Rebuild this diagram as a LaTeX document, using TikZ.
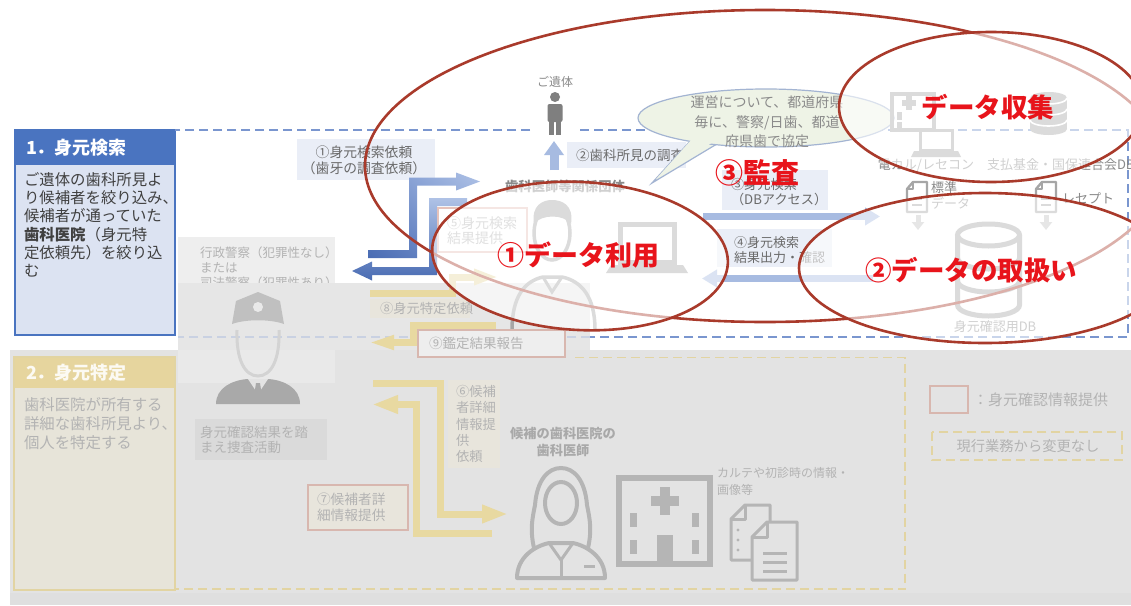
\documentclass[tikz,border=0pt]{standalone}
\usepackage{fontspec}
\setmainfont{Noto Sans CJK JP}
\usetikzlibrary{arrows.meta,calc,shadings}
\newcommand\setfs[2]{\fontsize{#1}{#2}\selectfont}

% palette
\definecolor{hdrblue}{HTML}{4A74C0}
\definecolor{bodyblue}{HTML}{DCE3F2}
\definecolor{dashblue}{HTML}{7A96CF}
\definecolor{txtdark}{HTML}{404040}
\definecolor{txtmid}{HTML}{6A6A6A}
\definecolor{txtlight}{HTML}{8A8A8A}
\definecolor{lblfill}{HTML}{EAEEF7}
\definecolor{icongray}{HTML}{A6A6A6}
\definecolor{figgray}{HTML}{7F7F7F}
\definecolor{ringred}{HTML}{A93A2B}
\definecolor{markred}{HTML}{E8141B}
\definecolor{bubblefill}{HTML}{EEF3E6}
\definecolor{bubbleline}{HTML}{A3B4D2}
\definecolor{arrDark}{HTML}{4A6CB3}
\definecolor{arrMid}{HTML}{7894CE}
\definecolor{arrLight}{HTML}{AFC2E6}
\definecolor{arrPale}{HTML}{A7BBE1}
\definecolor{pinkline}{HTML}{E6C2BA}
\definecolor{fadelite}{HTML}{EEEEEE}
\definecolor{fadeband}{HTML}{E6E6E6}
\definecolor{fadebg}{HTML}{E3E3E3}
\definecolor{fadecard}{HTML}{E9E9E9}
\definecolor{fadefoot}{HTML}{DFDFDF}
\definecolor{fadetxt}{HTML}{B3B3B3}
\definecolor{fadeicon}{HTML}{B5B5B5}
\definecolor{fadedark}{HTML}{A9A9A9}
\definecolor{fadeyel}{HTML}{E6D59E}
\definecolor{fadeyelbody}{HTML}{E7E4D9}
\definecolor{fadeyelline}{HTML}{E2D4A2}
\definecolor{fadeyarrow}{HTML}{E8D9A1}
\definecolor{fadepink}{HTML}{D8B7AF}
\definecolor{fadelabel}{HTML}{E8E5DC}
\definecolor{fadebox}{HTML}{DADADA}
\definecolor{fadedash}{HTML}{C9D1E2}

\tikzset{
  every node/.style={inner sep=0pt,outer sep=0pt},
  dashline/.style={draw=dashblue,line width=1.8,dash pattern=on 9pt off 5pt},
  yeldash/.style={draw=fadeyelline,line width=1.6,dash pattern=on 9pt off 5pt},
  lbltext/.style={text=txtmid,font=\setfs{13.5}{15.5}},
  barrow/.style={draw=arrPale,line width=7,-{Triangle[length=15pt,width=17pt]}},
  yarrow/.style={draw=fadeyarrow,line width=7,-{Triangle[length=26pt,width=17pt]}},
  ring/.style={draw=ringred,line width=2.6},
  ringfill/.style={ring,fill=white,fill opacity=0.6},
  redmark/.style={text=markred,font=\bfseries\setfs{26.5}{30}},
  dbsolid/.pic={
    \fill[icongray] (-18.5,0) rectangle (18.5,31);
    \fill[icongray] (0,31) ellipse[x radius=18.5,y radius=6];
    \fill[icongray] (0,0) ellipse[x radius=18.5,y radius=6];
    \draw[white,line width=1.6] (-18.5,0) arc[start angle=180,end angle=0,x radius=18.5,y radius=6];
    \draw[white,line width=1.6] (-18.5,11) arc[start angle=180,end angle=0,x radius=18.5,y radius=6];
    \draw[white,line width=1.6] (-18.5,22) arc[start angle=180,end angle=0,x radius=18.5,y radius=6];
  },
  dbframe/.pic={
    \draw[icongray,line width=5] (0,0) ellipse[x radius=31,y radius=11];
    \draw[icongray,line width=5] (-31,0) -- (-31,70) arc[start angle=180,end angle=0,x radius=31,y radius=11] -- (31,0);
    \draw[icongray,line width=5] (-31,23) arc[start angle=180,end angle=0,x radius=31,y radius=11];
    \draw[icongray,line width=5] (-31,46) arc[start angle=180,end angle=0,x radius=31,y radius=11];
  },
  docpage/.pic={
    \draw[icongray,line width=2.4,line join=round] (6,0) -- (20,0) -- (20,30) -- (0,30) -- (0,7) -- cycle;
    \draw[icongray,line width=2.4,line join=round] (0,7) -- (6,7) -- (6,0);
    \draw[icongray,line width=2.4] (5,17) -- (15,17) (5,23) -- (15,23);
  }
}

\begin{document}
\begin{tikzpicture}[x=1pt,y=-1pt]
\useasboundingbox (0,0) rectangle (1131,605);
\clip (0,0) rectangle (1131,605);
\fill[white] (0,0) rectangle (1131,605);

% ---------- section 1 card ----------
\fill[bodyblue] (15,130) rectangle (175,335);
\fill[hdrblue] (15,130) rectangle (175,165);
\draw[hdrblue,line width=1.6] (15,130) rectangle (175,335);
\node[anchor=west,text=white,font=\bfseries\setfs{18}{20}] (hd1) at (26,148) {1．身元検索};
\node[anchor=north west,align=left,text=txtdark,font=\setfs{15.4}{18.3}] (bd1) at (24,172.3)
  {ご遺体の歯科所見よ\\り候補者を絞り込み、\\候補者が通っていた\\\textbf{歯科医院}（身元特\\定依頼先）を絞り込\\む};

% dashed frame of section 1
\draw[dashline] (530,130) -- (175,130);
\draw[dashline] (580,130) -- (1128,130) -- (1128,337) -- (590,337);

% ---------- body and dental survey ----------
\node[text=txtlight,font=\setfs{12}{14}] (corpse) at (555,82) {ご遺体};
\fill[figgray] (555,97) circle (5);
\fill[figgray,rounded corners=2] (547.5,104) rectangle (562.5,122);
\fill[figgray] (549,119) rectangle (554,135);
\fill[figgray] (556,119) rectangle (561,135);
\coordinate (upS) at (554,170);
\coordinate (upE) at (554,141);
\draw[draw=arrPale,line width=9,-{Triangle[length=14pt,width=19pt]}] (upS) -- (upE);
\fill[lblfill] (567,142) rectangle (686,168);
\node[anchor=west,lbltext] (n2) at (576,155.5) {②歯科所見の調査};

% request label
\fill[lblfill] (297,139) rectangle (435,180);
\node[align=center,lbltext,font=\setfs{13.8}{16}] (n1) at (364,160) {①身元検索依頼\\（歯牙の調査依頼）};

% request arrow (police -> association)
\shade[lower left=arrDark,upper right=arrLight,upper left=arrMid,lower right=arrMid]
  (368,250) -- (409,250) -- (409,177.5) -- (456,177.5) -- (456,172.5) -- (480,181.5)
  -- (456,190.5) -- (456,185.5) -- (417,185.5) -- (417,258) -- (368,258) -- cycle;
% result arrow (association -> police)
\shade[top color=arrLight,bottom color=arrDark]
  (467,198) -- (429,198) -- (429,267) -- (372,267) -- (372,261.5) -- (352,271)
  -- (372,280.5) -- (372,275) -- (437,275) -- (437,206) -- (467,206) -- cycle;

% result label
\draw[pinkline,line width=1.4,fill=white] (438,208) rectangle (527,252);
\node[anchor=north west,align=left,text=fadetxt,font=\setfs{14}{15.5}] (n5) at (447,216.3) {⑤身元検索\\結果提供};

% association title
\node[text=txtlight,font=\bfseries\setfs{13.3}{15}] (assoc) at (565,186) {歯科医師等関係団体};

% laptop of the association
\draw[icongray,line width=5] (620,224) rectangle (674,262);
\fill[icongray] (611,265) -- (683,265) -- (688,273) -- (606,273) -- cycle;

% DB access arrows
\coordinate (dbIn) at (703,216.5);
\coordinate (dbTo) at (880,216.5);
\coordinate (dbOut) at (873,278.5);
\coordinate (dbBack) at (702,278.5);
\draw[barrow] (dbIn) -- (dbTo);
\draw[barrow] (dbOut) -- (dbBack);
\fill[lblfill] (722,170) rectangle (828,210);
\node[anchor=north west,align=left,lbltext,font=\setfs{13.2}{14.8}] (n3) at (731,178.4) {③身元検索\\（DBアクセス）};
\fill[lblfill] (717,229) rectangle (832,267);
\node[anchor=north west,align=left,lbltext,font=\setfs{13}{14.3}] (n4) at (734,236.8) {④身元検索\\結果出力・確認};

% agreement bubble
\draw[bubbleline,line width=1.2,fill=bubblefill] (690,141.3) -- (652,183) -- (716,144.5) -- cycle;
\draw[bubbleline,line width=1.2,fill=bubblefill] (766,118) ellipse[x radius=128,y radius=29];
\fill[bubblefill] (692,139) -- (656,179) -- (713,142) -- cycle;
\node[align=center,text=txtlight,font=\setfs{14}{19.5}] (bub) at (767,122) {運営について、都道府県\\毎に、警察/日歯、都道\\府県歯で協定};

% medical record system icon
\draw[icongray,line width=4] (892,94) rectangle (934,130);
\fill[icongray] (906,96) rectangle (912,110);
\fill[icongray] (902,100) rectangle (916,106);
\fill[icongray] (897,112) rectangle (902,120);
\fill[icongray] (897,122) rectangle (902,128);
\filldraw[fill=white,draw=icongray,line width=3] (920,130) rectangle (952,150);
\fill[icongray] (914,151) -- (958,151) -- (961,157) -- (911,157) -- cycle;
\node[text=txtlight,font=\setfs{13}{15}] (emr) at (926,165) {電カル/レセコン};

% claims database icon
\pic at (1048.5,98) {dbsolid};
\node[anchor=west,text=txtlight,font=\setfs{13}{15}] (claims) at (987,165) {支払基金・国保連合会DB};

% data files and feed arrows
\pic at (907,182) {docpage};
\node[anchor=north west,align=left,text=txtlight,font=\setfs{13}{16}] (std) at (931,181.5) {標準\\データ};
\pic at (1036,182) {docpage};
\node[anchor=west,text=txtlight,font=\setfs{13}{15}] (rcp) at (1062,198) {レセプト};
\coordinate (f1a) at (918,215);
\coordinate (f1b) at (918,230);
\coordinate (f2a) at (1046,215);
\coordinate (f2b) at (1046,230);
\draw[icongray!70,line width=5,-{Triangle[length=8pt,width=12pt]}] (f1a) -- (f1b);
\draw[icongray!70,line width=5,-{Triangle[length=8pt,width=12pt]}] (f2a) -- (f2b);

% identification database
\pic at (988.5,235) {dbframe};
\node[text=txtlight,font=\setfs{13}{15}] (iddb) at (995,327) {身元確認用DB};

% ---------- police card ----------
\fill[fadelite] (178,237) rectangle (335,283);
\node[anchor=north west,align=left,text=fadetxt,font=\setfs{12.5}{15}] (pol) at (200,246.8)
  {行政警察（犯罪性なし）\\または\\司法警察（犯罪性あり）};

% greyed lower region
\fill[fadeband] (178,283) rectangle (590,350);
\fill[fadebg] (10,350) rectangle (1131,605);
\fill[fadecard] (178,350) rectangle (335,383);
\fill[fadefoot] (10,593) rectangle (1131,605);
\draw[fadedash,line width=1.6,dash pattern=on 9pt off 5pt] (590,337) -- (178,337);

% association person
\fill[icongray] (534,224) .. controls (531,205) and (543,200) .. (552,200)
  .. controls (562,200) and (574,205) .. (571,224) .. controls (564,214) and (541,214) .. (534,224) -- cycle;
\draw[icongray,line width=3.5] (552,233) ellipse[x radius=18,y radius=27];
\draw[icongray,line width=3.5] (512,330) .. controls (512,296) and (525,281) .. (543,277) -- (562,277)
  .. controls (581,281) and (595,296) .. (595,330);
\draw[icongray,line width=3] (543,277) -- (552,292) -- (562,277);

% police officer
\fill[fadeicon!85!white] (232,324) -- (236,301) -- (258,292) -- (280,301) -- (284,324)
  .. controls (270,319) and (246,319) .. (232,324) -- cycle;
\fill[fadecard] (258,307) circle (5);
\draw[fadeicon!60!white,line width=3] (237,330) .. controls (236,360) and (245,376) .. (258,376)
  .. controls (271,376) and (280,360) .. (279,330);
\fill[fadedark] (216,404) .. controls (216,388) and (232,380) .. (248,379) -- (268,379)
  .. controls (284,380) and (300,388) .. (300,404) -- cycle;
\fill[fadebg] (248,379) -- (258,394) -- (268,379) -- cycle;
\fill[fadedark] (256,383) -- (260,383) -- (262,396) -- (258,400) -- (254,396) -- cycle;
\fill[fadebox] (195,419) rectangle (327,460);
\node[anchor=north west,align=left,text=fadetxt,font=\setfs{13.5}{15}] (act) at (200,426.5) {身元確認結果を踏\\まえ捜査活動};

% identification request / expert report
\coordinate (r8a) at (370,293.5);
\coordinate (r8b) at (452,293.5);
\coordinate (r8c) at (452,277);
\coordinate (r8d) at (498,277);
\draw[yarrow,-{Triangle[length=24pt,width=15pt]}] (r8a) -- (r8b) -- (r8c) -- (r8d);
\fill[fadelabel] (370,299) rectangle (470,318);
\node[anchor=west,text=fadetxt,font=\setfs{13.3}{15}] (n8) at (380,308) {⑧身元特定依頼};
\coordinate (r9a) at (496,325.5);
\coordinate (r9b) at (413,325.5);
\coordinate (r9c) at (413,342.5);
\coordinate (r9d) at (368,342.5);
\draw[yarrow,-{Triangle[length=26pt,width=13pt]}] (r9a) -- (r9b) -- (r9c) -- (r9d);
\draw[fadepink,line width=1.4,fill=fadelite] (418,330) rectangle (565,357);
\node[anchor=west,text=fadetxt,font=\setfs{13.5}{15}] (n9) at (429,343.5) {⑨鑑定結果報告};

% ---------- section 2 card ----------
\fill[fadeyelbody] (14,357) rectangle (175,590);
\fill[fadeyel] (14,357) rectangle (175,388);
\draw[fadeyelline,line width=1.5] (14,357) rectangle (175,590);
\node[anchor=west,text=white!88!fadeyel,font=\bfseries\setfs{18}{20}] (hd2) at (26,373) {2．身元特定};
\node[anchor=north west,align=left,text=fadetxt,font=\setfs{15.4}{19}] (bd2) at (24,397.3)
  {歯科医院が所有する\\詳細な歯科所見より、\\個人を特定する};
\draw[yeldash] (575,357.5) -- (905,357.5) -- (905,589) -- (175,589);

% detailed information request / provision
\coordinate (r6a) at (373,383.5);
\coordinate (r6b) at (440,383.5);
\coordinate (r6c) at (440,514);
\coordinate (r6d) at (508,514);
\draw[yarrow] (r6a) -- (r6b) -- (r6c) -- (r6d);
\coordinate (r7a) at (492,533.5);
\coordinate (r7b) at (416.5,533.5);
\coordinate (r7c) at (416.5,404.5);
\coordinate (r7d) at (372,404.5);
\draw[yarrow] (r7a) -- (r7b) -- (r7c) -- (r7d);
\fill[fadelabel] (448,380) rectangle (500,468);
\node[anchor=north west,align=left,text=fadetxt,font=\setfs{13.3}{16.2}] (n6) at (456,385.4) {⑥候補\\者詳細\\情報提\\供\\依頼};
\draw[fadepink,line width=1.4,fill=fadelabel] (308,485) rectangle (408,530);
\node[anchor=north west,align=left,text=fadetxt,font=\setfs{13.7}{15.3}] (n7) at (317,493.2) {⑦候補者詳\\細情報提供};

% candidate dentist
\node[align=center,text=fadedark,font=\bfseries\setfs{13.2}{17}] (cand) at (563,441.5) {候補の歯科医院の\\歯科医師};
\draw[fadeicon,line width=4] (534,548) .. controls (530,530) and (532,520) .. (535,505)
  .. controls (537,480) and (548,468) .. (561,468) .. controls (574,468) and (585,480) .. (587,505)
  .. controls (590,520) and (592,530) .. (588,548);
\draw[fadeicon,line width=4] (561,503) ellipse[x radius=16,y radius=21];
\draw[fadeicon,line width=4,line join=round] (517,578) .. controls (517,557) and (535,546) .. (549,543) -- (573,543)
  .. controls (587,546) and (605,557) .. (605,578) -- cycle;
\draw[fadeicon,line width=3] (549,543) -- (561,560) -- (573,543);
\draw[fadeicon,line width=3] (561,558) -- (561,576);
\draw[fadeicon,line width=3] (584,566) -- (595,566);

% clinic building
\draw[fadeicon,line width=6] (619,478) rectangle (710,564);
\fill[fadeicon] (660,487) rectangle (670,515);
\fill[fadeicon] (651,496) rectangle (679,506);
\fill[fadeicon] (630,513) rectangle (637,527);
\fill[fadeicon] (692,513) rectangle (699,527);
\fill[fadeicon] (630,540) rectangle (637,554);
\fill[fadeicon] (692,540) rectangle (699,554);
\fill[fadeicon] (657,535) rectangle (673,564);

% records
\draw[fadeicon,line width=3,line join=round] (745,505) -- (770,505) -- (770,560) -- (731,560) -- (731,519) -- cycle;
\draw[fadeicon,line width=3,line join=round] (731,519) -- (745,519) -- (745,505);
\fill[fadeicon] (738,530) circle (1.6) (738,540) circle (1.6) (738,550) circle (1.6);
\draw[fadeicon,line width=3,line join=round,fill=fadebg] (767,522) -- (797,522) -- (797,580) -- (752,580) -- (752,537) -- cycle;
\draw[fadeicon,line width=3,line join=round] (752,537) -- (767,537) -- (767,522);
\draw[fadeicon,line width=3] (763,553) -- (787,553) (763,562) -- (787,562) (763,571) -- (787,571);
\node[anchor=north west,align=left,text=fadetxt,font=\setfs{12}{17}] (rec) at (717,467) {カルテや初診時の情報・\\画像等};

% legend
\draw[fadepink,line width=1.6] (930,386) rectangle (968,413);
\node[anchor=west,text=fadetxt,font=\setfs{15}{17}] (lg1) at (973,400) {：身元確認情報提供};
\draw[yeldash] (932,432) rectangle (1122,460);
\node[text=fadetxt,font=\setfs{14.3}{16}] (lg2) at (1028,446.5) {現行業務から変更なし};

% ---------- scope rings ----------
\draw[ring] (765,166) ellipse[x radius=400,y radius=156];
\draw[ringfill,rotate around={-3:(580,256)}] (580,256) ellipse[x radius=148,y radius=74];
\draw[ringfill] (991,107) ellipse[x radius=152,y radius=75];
\draw[ringfill] (985,268) ellipse[x radius=186,y radius=75];

\node[redmark,font=\bfseries\setfs{27}{30}] (use) at (578,255) {①データ利用};
\node[redmark,font=\bfseries\setfs{28}{30}] (audit) at (757,173) {③監査};
\node[redmark] (collect) at (988,107) {データ収集};
\node[redmark] (handle) at (971,270) {②データの取扱い};
\end{tikzpicture}
\end{document}
